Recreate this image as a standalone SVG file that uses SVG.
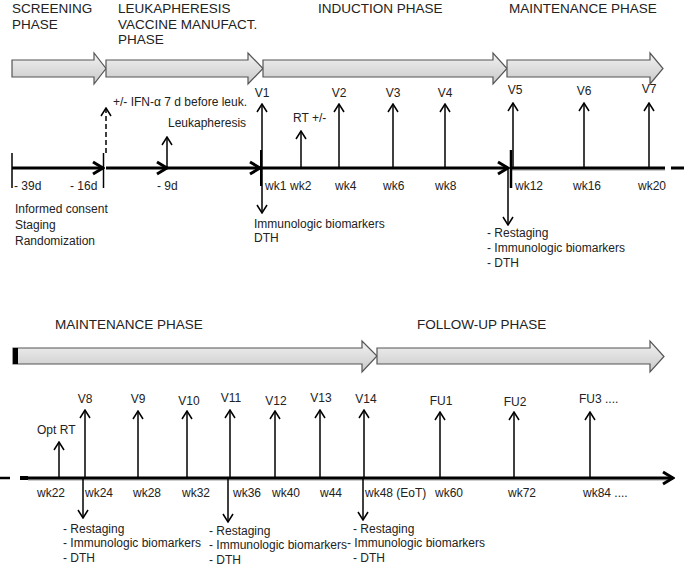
<svg xmlns="http://www.w3.org/2000/svg" width="685" height="567" viewBox="0 0 685 567">
<style>
text{font-family:"Liberation Sans",Arial,sans-serif;font-size:12px;fill:#222}
.ph{font-size:13.5px}
.m{text-anchor:middle}
.band{fill:url(#g);stroke:#555;stroke-width:1.2}
.tl{stroke:#000;stroke-width:3;fill:none}
.va{stroke:#000;stroke-width:1.5;fill:none;marker-end:url(#ah)}
.tick{stroke:#000;stroke-width:1.5}
</style>
<defs>
<linearGradient id="g" x1="0" y1="0" x2="0" y2="1">
<stop offset="0" stop-color="#f2f2f2"/>
<stop offset="1" stop-color="#c9c9c9"/>
</linearGradient>
<marker id="ah" markerUnits="userSpaceOnUse" viewBox="0 0 10 12" refX="9" refY="6" markerWidth="10" markerHeight="12" orient="auto">
<path d="M1,1 L9,6 L1,11" fill="none" stroke="#000" stroke-width="1.5"/>
</marker>
<marker id="bh" markerUnits="userSpaceOnUse" viewBox="0 0 14 16" refX="12" refY="8" markerWidth="14" markerHeight="16" orient="auto">
<path d="M2,2 L12,8 L2,14" fill="none" stroke="#000" stroke-width="3"/>
</marker>
</defs>

<g id="phase-screening">
<polygon class="band" points="12,60 94,60 94,53 106,68.5 94,84 94,77 12,77"/>
<text class="ph" x="12" y="13">SCREENING</text>
<text class="ph" x="12" y="29">PHASE</text>
</g>
<g id="phase-leukapheresis">
<polygon class="band" points="106,60 248,60 248,53 263,68.5 248,84 248,77 106,77"/>
<text class="ph" x="118" y="13">LEUKAPHERESIS</text>
<text class="ph" x="118" y="29">VACCINE MANUFACT.</text>
<text class="ph" x="118" y="44">PHASE</text>
</g>
<g id="phase-induction">
<polygon class="band" points="263,60 493,60 493,53 507,68.5 493,84 493,77 263,77"/>
<text class="ph" x="318" y="13">INDUCTION PHASE</text>
</g>
<g id="phase-maintenance-top">
<polygon class="band" points="507,60 650,60 650,53 663,68.5 650,84 650,77 507,77"/>
<text class="ph" x="509" y="13">MAINTENANCE PHASE</text>
</g>
<g id="phase-maintenance-bottom">
<polygon class="band" points="13,348 362,348 362,341 377,356 362,372 362,364 13,364"/>
<rect x="13" y="348" width="5" height="16" fill="#000"/>
<text class="ph" x="55" y="329">MAINTENANCE PHASE</text>
</g>
<g id="phase-followup">
<polygon class="band" points="377,348 650,348 650,341 664,356.5 650,372 650,364 377,364"/>
<text class="ph" x="417" y="329">FOLLOW-UP PHASE</text>
</g>

<g id="connectors">
<!-- top timeline -->
<line class="tl" x1="12" y1="168" x2="103" y2="168" marker-end="url(#bh)"/>
<line class="tl" x1="106" y1="168" x2="167" y2="168" marker-end="url(#bh)"/>
<line class="tl" x1="167" y1="168" x2="260" y2="168" marker-end="url(#bh)"/>
<line class="tl" x1="262" y1="168" x2="508" y2="168" marker-end="url(#bh)"/>
<line x1="512" y1="170" x2="665" y2="170" stroke="#ccc" stroke-width="2"/>
<line class="tl" x1="512" y1="168" x2="665" y2="168"/>
<line class="tl" x1="671" y1="168" x2="684" y2="168"/>
<line class="tick" x1="12" y1="153" x2="12" y2="188"/>
<line class="tick" x1="103.5" y1="153" x2="103.5" y2="188"/>
<line x1="261" y1="150" x2="261" y2="186" stroke="#000" stroke-width="2"/>
<line x1="511" y1="150" x2="511" y2="188" stroke="#000" stroke-width="2.5"/>
<line class="va" x1="106" y1="153" x2="106" y2="108" stroke-dasharray="5,3"/>
<line class="va" x1="167" y1="168" x2="167" y2="137"/>
<line class="va" x1="262" y1="168" x2="262" y2="104"/>
<line class="va" x1="262" y1="168" x2="262" y2="213"/>
<line class="va" x1="301" y1="168" x2="301" y2="131"/>
<line class="va" x1="339" y1="168" x2="339" y2="104"/>
<line class="va" x1="393" y1="168" x2="393" y2="104"/>
<line class="va" x1="445" y1="168" x2="445" y2="104"/>
<line class="va" x1="513" y1="168" x2="513" y2="103"/>
<line class="va" x1="508" y1="168" x2="508" y2="225"/>
<line class="va" x1="584" y1="168" x2="584" y2="103"/>
<line class="va" x1="649" y1="168" x2="649" y2="103"/>
<!-- bottom timeline -->
<line x1="0" y1="478" x2="10" y2="478" stroke="#000" stroke-width="2.5"/>
<line x1="20" y1="478" x2="28" y2="478" stroke="#000" stroke-width="4"/>
<line x1="28" y1="480" x2="668" y2="480" stroke="#ccc" stroke-width="2"/>
<line class="tl" x1="28" y1="478" x2="673" y2="478" marker-end="url(#bh)"/>
<line class="va" x1="59" y1="478" x2="59" y2="442"/>
<line class="va" x1="85" y1="478" x2="85" y2="410"/>
<line class="va" x1="83" y1="478" x2="83" y2="518"/>
<line class="va" x1="138" y1="478" x2="138" y2="411"/>
<line class="va" x1="187" y1="478" x2="187" y2="411"/>
<line class="va" x1="230" y1="478" x2="230" y2="410"/>
<line class="va" x1="228" y1="478" x2="228" y2="522"/>
<line class="va" x1="275" y1="478" x2="275" y2="411"/>
<line class="va" x1="320" y1="478" x2="320" y2="410"/>
<line class="va" x1="364" y1="478" x2="364" y2="410"/>
<line class="va" x1="363" y1="478" x2="363" y2="520"/>
<line class="va" x1="440" y1="478" x2="440" y2="412"/>
<line class="va" x1="514" y1="478" x2="514" y2="412"/>
<line class="va" x1="590" y1="478" x2="590" y2="412"/>
</g>

<g id="labels-top">
<text x="113" y="106">+/- IFN-α 7 d before leuk.</text>
<text x="168" y="127">Leukapheresis</text>
<text x="293" y="122">RT +/-</text>
<text class="m" x="262" y="97">V1</text>
<text class="m" x="339" y="97">V2</text>
<text class="m" x="393" y="97">V3</text>
<text class="m" x="445" y="97">V4</text>
<text class="m" x="515" y="94">V5</text>
<text class="m" x="584" y="95">V6</text>
<text class="m" x="649" y="93">V7</text>
<text x="14" y="190">- 39d</text>
<text x="70" y="190">- 16d</text>
<text x="157" y="190">- 9d</text>
<text x="265" y="190">wk1</text>
<text x="290" y="190">wk2</text>
<text x="335" y="190">wk4</text>
<text x="383" y="190">wk6</text>
<text x="435" y="190">wk8</text>
<text x="515" y="190">wk12</text>
<text x="573" y="190">wk16</text>
<text x="638" y="190">wk20</text>
<text x="15" y="213">Informed consent</text>
<text x="15" y="229">Staging</text>
<text x="15" y="245">Randomization</text>
<text x="254" y="228">Immunologic biomarkers</text>
<text x="254" y="242">DTH</text>
<text x="487" y="237">- Restaging</text>
<text x="487" y="252">- Immunologic biomarkers</text>
<text x="487" y="267">- DTH</text>
</g>

<g id="labels-bottom">
<text x="37" y="434">Opt RT</text>
<text class="m" x="85" y="403">V8</text>
<text class="m" x="138" y="403">V9</text>
<text class="m" x="189" y="405">V10</text>
<text class="m" x="231" y="402">V11</text>
<text class="m" x="276" y="405">V12</text>
<text class="m" x="321" y="402">V13</text>
<text class="m" x="366" y="403">V14</text>
<text class="m" x="441" y="405">FU1</text>
<text class="m" x="515" y="406">FU2</text>
<text x="579" y="403">FU3 ....</text>
<text x="37" y="497">wk22</text>
<text x="85" y="497">wk24</text>
<text x="133" y="497">wk28</text>
<text x="182" y="497">wk32</text>
<text x="233" y="497">wk36</text>
<text x="272" y="497">wk40</text>
<text x="320" y="497">w44</text>
<text x="365" y="497">wk48 (EoT)</text>
<text x="435" y="497">wk60</text>
<text x="508" y="497">wk72</text>
<text x="583" y="497">wk84 ....</text>
<text x="63" y="533">- Restaging</text>
<text x="63" y="547">- Immunologic biomarkers</text>
<text x="63" y="562">- DTH</text>
<text x="209" y="535">- Restaging</text>
<text x="209" y="549">- Immunologic biomarkers</text>
<text x="209" y="564">- DTH</text>
<text x="353" y="533">- Restaging</text>
<text x="347" y="547">- Immunologic biomarkers</text>
<text x="353" y="562">- DTH</text>
</g>
</svg>
